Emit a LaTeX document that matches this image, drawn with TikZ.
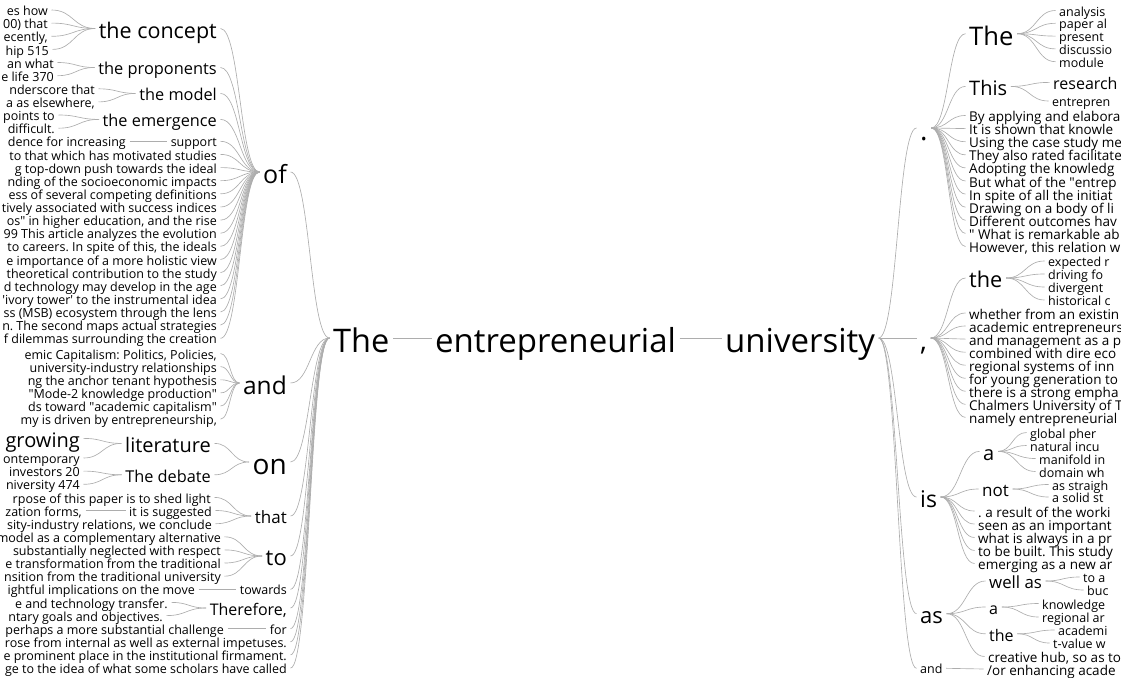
\documentclass[tikz,border=0pt]{standalone}
\usepackage{fontspec}
\setmainfont{Open Sans}
\usetikzlibrary{calc}
\definecolor{lkc}{HTML}{ADADAD}
\newcommand\fs[1]{\fontsize{#1}{#1}\selectfont}
\newcommand\q{\textquotedbl}
\newcommand\qs{\textquotesingle}
\frenchspacing
\tikzset{
  wbase/.style={inner xsep=3.5pt, inner ysep=0pt, text=black, text depth=0pt},
  lk/.style={draw=lkc, line width=0.65pt},
}
% left-side word: name, size, right edge x, connection y, text
\newcommand\WL[5]{\pgfmathsetmacro\wtH{0.9*#2}%
  \node[wbase, anchor=east, xshift=3.5pt, font=\fs{#2}, text height=\wtH pt] (#1) at (#3,#4) {#5};}
% right-side word: name, size, left edge x, connection y, text
\newcommand\WR[5]{\pgfmathsetmacro\wtH{0.9*#2}%
  \node[wbase, anchor=west, xshift=-3.5pt, font=\fs{#2}, text height=\wtH pt] (#1) at (#3,#4) {#5};}
\newcommand\LK[2]{\edef\lkA{#1}\edef\lkB{#2}\draw[lk] let \p1=(\lkA.east), \p2=(\lkB.west) in
  (\p1) .. controls ({(\x1+\x2)/2},\y1) and ({(\x1+\x2)/2},\y2) .. (\p2);}
\def\S{12.5}
\def\T{13.5}
\begin{document}
\begin{tikzpicture}[x=1pt,y=-1pt]
\useasboundingbox (0,0) rectangle (1121,677);
\clip (0,0) rectangle (1121,677);
% ---------------- centre
\WR{c1}{32.5}{333}{338}{The}
\WR{c2}{33}{435}{338}{entrepreneurial}
\WR{c3}{33}{725}{338}{university}
\LK{c1}{c2} \LK{c2}{c3}
% ---------------- left, level 2
\WL{of}{25}{287}{172}{of}
\WL{and}{24.5}{287}{383}{and}
\WL{on}{28}{287}{462}{on}
\WL{that}{17}{287}{516}{that}
\WL{to}{22}{287}{556}{to}
\WL{tow}{\S}{287}{589.3}{towards}
\WL{there}{16}{287}{608}{Therefore,}
\WL{for}{\S}{287}{628.7}{for}
\WL{rose}{\S}{287}{641.8}{rose from internal as well as external impetuses.}
\WL{prom}{\S}{287}{654.9}{e prominent place in the institutional firmament.}
\WL{idea}{\S}{287}{668.1}{ge to the idea of what some scholars have called}
\foreach \nm in {of,and,on,that,to,tow,there,for,rose,prom,idea} {\LK{\nm}{c1}}
% ---------------- under "of"
\WL{concept}{21.5}{217}{28.5}{the concept}
\WL{propon}{16.4}{217}{67.5}{the proponents}
\WL{model}{16.3}{217}{93.4}{the model}
\WL{emerg}{16.3}{217}{119.4}{the emergence}
\WL{support}{\S}{217}{141.3}{support}
\WL{o11}{\S}{217}{154.4}{to that which has motivated studies}
\WL{o12}{\S}{217}{167.6}{g top-down push towards the ideal}
\WL{o13}{\S}{217}{180.7}{nding of the socioeconomic impacts}
\WL{o14}{\S}{217}{193.8}{ess of several competing definitions}
\WL{o15}{\S}{217}{207}{tively associated with success indices}
\WL{o16}{\S}{217}{220.1}{os\q{} in higher education, and the rise}
\WL{o17}{\S}{217}{233.2}{99 This article analyzes the evolution}
\WL{o18}{\S}{217}{246.3}{to careers. In spite of this, the ideals}
\WL{o19}{\S}{217}{259.5}{e importance of a more holistic view}
\WL{o20}{\S}{217}{272.6}{theoretical contribution to the study}
\WL{o21}{\S}{217}{285.7}{d technology may develop in the age}
\WL{o22}{\S}{217}{298.9}{\qs ivory tower\qs{} to the instrumental idea}
\WL{o23}{\S}{217}{312}{ss (MSB) ecosystem through the lens}
\WL{o24}{\S}{217}{325.1}{n. The second maps actual strategies}
\WL{o25}{\S}{217}{338.3}{f dilemmas surrounding the creation}
\foreach \nm in {concept,propon,model,emerg,support,o11,o12,o13,o14,o15,o16,o17,o18,o19,o20,o21,o22,o23,o24,o25} {\LK{\nm}{of}}
% level 4 under "of"
\WL{k0}{\S}{48}{10}{es how}
\WL{k1}{\S}{48}{23.1}{00) that}
\WL{k2}{\S}{48}{36.3}{ecently,}
\WL{k3}{\S}{49}{49.4}{hip 515}
\foreach \nm in {k0,k1,k2,k3} {\LK{\nm}{concept}}
\WL{k4}{\S}{54}{62.5}{an what}
\WL{k5}{\S}{54}{75.7}{e life 370}
\LK{k4}{propon} \LK{k5}{propon}
\WL{k6}{\S}{95}{88.8}{nderscore that}
\WL{k7}{\S}{95}{101.9}{a as elsewhere,}
\LK{k6}{model} \LK{k7}{model}
\WL{k8}{\S}{55}{115}{points to}
\WL{k9}{\S}{55}{128.2}{difficult.}
\LK{k8}{emerg} \LK{k9}{emerg}
\WL{k10}{\S}{126}{141.3}{dence for increasing}
\LK{k10}{support}
% ---------------- under "and"
\WL{a0}{\S}{217}{353.5}{emic Capitalism: Politics, Policies,}
\WL{a1}{\S}{217}{366.6}{university-industry relationships}
\WL{a2}{\S}{217}{379.8}{ng the anchor tenant hypothesis}
\WL{a3}{\S}{217}{392.9}{\q Mode-2 knowledge production\q}
\WL{a4}{\S}{217}{406}{ds toward \q academic capitalism\q}
\WL{a5}{\S}{217}{419.2}{my is driven by entrepreneurship,}
\foreach \nm in {a0,a1,a2,a3,a4,a5} {\LK{\nm}{and}}
% ---------------- under "on"
\WL{lit}{20}{211}{443.4}{literature}
\WL{deb}{16.3}{211}{474.8}{The debate}
\LK{lit}{on} \LK{deb}{on}
\WL{gro}{20}{80}{438.4}{e growing}
\WL{cont}{\S}{80}{458}{ontemporary}
\LK{gro}{lit} \LK{cont}{lit}
\WL{inv}{\S}{80}{471.1}{investors 20}
\WL{niv}{\S}{80}{484.3}{niversity 474}
\LK{inv}{deb} \LK{niv}{deb}
% ---------------- under "that"
\WL{t0}{\S}{211}{497.4}{rpose of this paper is to shed light}
\WL{sugg}{\S}{212}{510.5}{it is suggested}
\WL{t2}{\S}{212}{523.7}{sity-industry relations, we conclude}
\foreach \nm in {t0,sugg,t2} {\LK{\nm}{that}}
\WL{zat}{\S}{82}{510.5}{zation forms,}
\LK{zat}{sugg}
% ---------------- under "to"
\WL{u0}{\S}{221}{536.8}{model as a complementary alternative}
\WL{u1}{\S}{221}{549.9}{substantially neglected with respect}
\WL{u2}{\S}{221}{563}{e transformation from the traditional}
\WL{u3}{\S}{221}{576.2}{nsition from the traditional university}
\foreach \nm in {u0,u1,u2,u3} {\LK{\nm}{to}}
\WL{ight}{\S}{195}{589.3}{ightful implications on the move}
\LK{ight}{tow}
\WL{th0}{\S}{168}{602.4}{e and technology transfer.}
\WL{th1}{\S}{163}{615.6}{ntary goals and objectives.}
\LK{th0}{there} \LK{th1}{there}
\WL{perh}{\S}{224}{628.7}{perhaps a more substantial challenge}
\LK{perh}{for}
% ================= right side, level 2
\WR{dot}{28}{920}{128}{.}
\WR{comma}{28}{920}{338}{,}
\WR{is}{23}{920}{497}{is}
\WR{as}{22}{920}{613.7}{as}
\WR{rand}{\S}{920}{668.3}{and}
\foreach \nm in {dot,comma,is,as,rand} {\LK{c3}{\nm}}
% ---------------- under "."
\WR{The2}{25.6}{969}{33.7}{The}
\WR{This}{20}{969}{86.4}{This}
\WR{d0}{\T}{969}{115.5}{By applying and elabora}
\WR{d1}{\T}{969}{128.6}{It is shown that knowle}
\WR{d2}{\T}{969}{141.7}{Using the case study me}
\WR{d3}{\T}{969}{154.8}{They also rated facilitate}
\WR{d4}{\T}{969}{167.9}{Adopting the knowledg}
\WR{d5}{\T}{969}{181}{But what of the \q entrep}
\WR{d6}{\T}{969}{194.1}{In spite of all the initiat}
\WR{d7}{\T}{969}{207.2}{Drawing on a body of li}
\WR{d8}{\T}{969}{220.3}{Different outcomes hav}
\WR{d9}{\T}{969}{233.4}{\q{} What is remarkable ab}
\WR{d10}{\T}{969}{246.5}{However, this relation w}
\foreach \nm in {The2,This,d0,d1,d2,d3,d4,d5,d6,d7,d8,d9,d10} {\LK{dot}{\nm}}
\WR{e0}{\S}{1059}{10.5}{analysis}
\WR{e1}{\S}{1059}{23.3}{paper al}
\WR{e2}{\S}{1059}{36.1}{present}
\WR{e3}{\S}{1059}{48.9}{discussio}
\WR{e4}{\S}{1059}{61.7}{module}
\foreach \nm in {e0,e1,e2,e3,e4} {\LK{The2}{\nm}}
\WR{res}{16}{1053}{82.4}{research}
\WR{ent}{\S}{1052}{101}{entrepren}
\LK{This}{res} \LK{This}{ent}
% ---------------- under ","
\WR{the2}{21.7}{969}{278}{the}
\WR{f0}{\T}{969}{313}{whether from an existin}
\WR{f1}{\T}{969}{326}{academic entrepreneurs}
\WR{f2}{\T}{969}{339.1}{and management as a p}
\WR{f3}{\T}{969}{352.2}{combined with dire eco}
\WR{f4}{\T}{969}{365.2}{regional systems of inn}
\WR{f5}{\T}{969}{378.3}{for young generation to}
\WR{f6}{\T}{969}{391.3}{there is a strong empha}
\WR{f7}{\T}{969}{404.4}{Chalmers University of T}
\WR{f8}{\T}{969}{417.4}{namely entrepreneurial}
\foreach \nm in {the2,f0,f1,f2,f3,f4,f5,f6,f7,f8} {\LK{comma}{\nm}}
\WR{g0}{\S}{1048}{261}{expected r}
\WR{g1}{\S}{1048}{274}{driving fo}
\WR{g2}{\S}{1048}{287}{divergent}
\WR{g3}{\S}{1048}{300}{historical c}
\foreach \nm in {g0,g1,g2,g3} {\LK{the2}{\nm}}
% ---------------- under "is"
\WR{ia}{20}{983}{451.4}{a}
\WR{not}{17}{982}{489}{not}
\WR{h0}{\T}{978}{511}{. a result of the worki}
\WR{h1}{\T}{978}{524}{seen as an important}
\WR{h2}{\T}{978}{537.5}{what is always in a pr}
\WR{h3}{\T}{978}{550.5}{to be built. This study}
\WR{h4}{\T}{978}{563.5}{emerging as a new ar}
\foreach \nm in {ia,not,h0,h1,h2,h3,h4} {\LK{is}{\nm}}
\WR{i0}{\S}{1030}{432.5}{global pher}
\WR{i1}{\S}{1030}{445.5}{natural incu}
\WR{i2}{\S}{1039}{458.5}{manifold in}
\WR{i3}{\S}{1039}{471.5}{domain wh}
\foreach \nm in {i0,i1,i2,i3} {\LK{ia}{\nm}}
\WR{j0}{\S}{1052}{484.5}{as straigh}
\WR{j1}{\S}{1052}{497}{a solid st}
\LK{not}{j0} \LK{not}{j1}
% ---------------- under "as"
\WR{well}{16.8}{989}{581}{well as}
\WR{sa}{16}{989}{607}{a}
\WR{sthe}{16}{989}{633.8}{the}
\WR{crea}{\T}{988}{656.5}{creative hub, so as to}
\foreach \nm in {well,sa,sthe,crea} {\LK{as}{\nm}}
\WR{w0}{\S}{1083}{577}{to a}
\WR{w1}{\S}{1087}{590}{buc}
\LK{well}{w0} \LK{well}{w1}
\WR{m0}{\S}{1042}{603.5}{knowledge}
\WR{m1}{\S}{1042}{617}{regional ar}
\LK{sa}{m0} \LK{sa}{m1}
\WR{n0}{\S}{1058}{630}{academi}
\WR{n1}{\S}{1053}{643}{t-value w}
\LK{sthe}{n0} \LK{sthe}{n1}
\WR{orr}{\T}{987}{669}{/or enhancing acade}
\LK{rand}{orr}
\end{tikzpicture}
\end{document}
